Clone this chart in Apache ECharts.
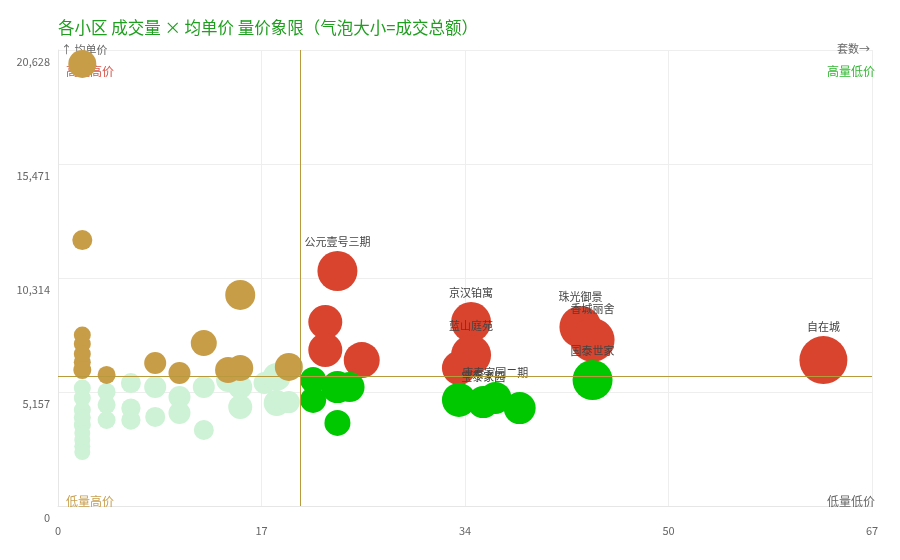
<!DOCTYPE html>
<html>
<head>
<meta charset="utf-8">
<script src="https://cdn.jsdelivr.net/npm/echarts@6/dist/echarts.min.js"></script>
<style>
html,body{margin:0;padding:0;background:#fff;}
#c{width:900px;height:560px;}
</style>
</head>
<body>
<div id="c"></div>
<script>
// ---- data ----
// rows: [low-count high-price 15] [low-count low-price 28] [high-count low-price 10] [high-count high-price 10]
var names = [
  '', '', '', '', '',   '', '', '', '', '',   '', '', '', '', '',
  '', '', '', '', '',   '', '', '', '', '',   '', '', '', '', '',   '', '', '', '', '',   '', '', '', '', '',   '', '', '',
  '', '', '', '', '',   '', '宝泰家园', '康泰家园二期', '', '国泰世家',
  '公元壹号三期', '', '', '', '京汉铂寓',   '蓝山庭苑', '', '珠光御景', '香城丽舍', '自在城'
];
var counts = [
  2, 2, 2, 2, 2,   2, 2, 4, 8, 10,   12, 15, 14, 15, 19,
  2, 2, 2, 2, 2,   2, 2, 2, 2, 4,   4, 4, 6, 6, 6,   8, 8, 10, 10, 12,   12, 14, 15, 15, 17,   18, 18, 19,
  21, 21, 23, 24, 23,   33, 35, 36, 38, 44,
  23, 22, 22, 25, 34,   34, 33, 43, 44, 63
];
var prices = [
  20000, 12030, 7740, 7330, 6880,   6500, 6150, 5930, 6470, 6020,   7370, 9550, 6150, 6240, 6290,
  5340, 4890, 4340, 4000, 3660,   3300, 2990, 2700, 2440, 5160,   4570, 3890, 5560, 4430, 3890,   5380, 4030, 4930, 4210, 5380,   3440, 5700, 5380, 4480, 5560,   5840, 4660, 4700,
  5700, 4800, 5380, 5380, 3760,   4800, 4700, 4890, 4430, 5700,
  10630, 8320, 7060, 6600, 8320,   6830, 6240, 8100, 7510, 6600
];
var amounts = [ // 成交总额（万元）
  900, 278, 136, 136, 136,   136, 178, 178, 400, 400,   711, 1111, 711, 711, 900,
  136, 136, 136, 136, 136,   100, 100, 100, 100, 178,   178, 178, 278, 240, 240,   400, 278, 400, 400, 400,   278, 544, 544, 544, 400,   900, 711, 400,
  711, 711, 1344, 1111, 711,   1600, 1344, 1344, 1344, 2500,
  2500, 1600, 1600, 1878, 2500,   2500, 1600, 2844, 3211, 4011
];
var avgCount = 19.9;
var avgPrice = 5880;
var xMax = 67, xInterval = 16.75;
var yMax = 20628, yInterval = 5157;
var titleText = '各小区 成交量 × 均单价 量价象限（气泡大小=成交总额）';
var quadrantNames = { tl: '高量高价', tr: '高量低价', bl: '低量高价', br: '低量低价' };

// ---- build series ----
var hh = [], hl = [], lh = [], ll = [];
for (var i = 0; i < counts.length; i++) {
  var p = { name: names[i] || '', value: [counts[i], prices[i], amounts[i]] };
  var hiC = counts[i] > avgCount, hiP = prices[i] > avgPrice;
  if (hiC && hiP) hh.push(p);
  else if (hiC) hl.push(p);
  else if (hiP) lh.push(p);
  else ll.push(p);
}
function sz(v) { return 10 + Math.sqrt(v[2]) * 0.6; }
var lbl = {
  show: true, position: 'top', distance: 4, fontSize: 11, color: '#444',
  fontFamily: 'Noto Sans CJK SC',
  formatter: function (p) { return p.name; }
};
function fmt(v) { return Math.round(v).toString().replace(/\B(?=(\d{3})+(?!\d))/g, ','); }

var chart = echarts.init(document.getElementById('c'));
chart.setOption({
  animation: false,
  textStyle: { fontFamily: 'Noto Sans CJK SC' },
  title: {
    text: titleText, left: 53, top: 14,
    textStyle: { fontSize: 16.5, fontWeight: 'normal', color: '#1f9e1f', fontFamily: 'Noto Sans CJK SC' }
  },
  grid: { left: 58, right: 28, top: 50, bottom: 54 },
  xAxis: {
    type: 'value', min: 0, max: xMax, interval: xInterval,
    axisLine: { show: true, lineStyle: { color: '#e6e6e6' } },
    axisTick: { show: false },
    splitLine: { show: true, lineStyle: { color: '#eeeeee' } },
    axisLabel: { color: '#666', fontSize: 11, margin: 19, formatter: function (v) { return Math.round(v); } }
  },
  yAxis: {
    type: 'value', min: 0, max: yMax, interval: yInterval,
    name: '↑ 均单价', nameLocation: 'end', nameGap: 0,
    nameTextStyle: { color: '#666', fontSize: 11, align: 'left', verticalAlign: 'middle', padding: [0, 0, 0, 3] },
    axisLine: { show: true, lineStyle: { color: '#e6e6e6' } },
    axisTick: { show: false },
    splitLine: { show: true, lineStyle: { color: '#eeeeee' } },
    axisLabel: { color: '#666', fontSize: 11, margin: 8, verticalAlign: 'top', padding: [6, 0, 0, 0], formatter: fmt }
  },
  graphic: [
    { type: 'text', right: 30, top: 43, z: 1, style: { text: '套数→', fill: '#666', font: '11px "Noto Sans CJK SC"' } },
    { type: 'text', left: 66, top: 65, z: 1, style: { text: quadrantNames.tl, fill: '#d9534a', font: '12px "Noto Sans CJK SC"' } },
    { type: 'text', right: 25, top: 65, z: 1, style: { text: quadrantNames.tr, fill: '#33b833', font: '12px "Noto Sans CJK SC"' } },
    { type: 'text', left: 66, top: 495, z: 1, style: { text: quadrantNames.bl, fill: '#c8a050', font: '12px "Noto Sans CJK SC"' } },
    { type: 'text', right: 25, top: 495, z: 1, style: { text: quadrantNames.br, fill: '#666', font: '12px "Noto Sans CJK SC"' } }
  ],
  series: [
    {
      type: 'scatter', data: [], silent: true,
      markLine: {
        silent: true, symbol: 'none', label: { show: false },
        lineStyle: { color: '#b89a3c', width: 1, type: 'solid' },
        data: [{ xAxis: avgCount }, { yAxis: avgPrice }]
      }
    },
    { name: '低量低价', type: 'scatter', data: ll, symbolSize: sz, itemStyle: { color: '#cdf2d5', opacity: 1 }, label: lbl },
    { name: '低量高价', type: 'scatter', data: lh, symbolSize: sz, itemStyle: { color: '#c89d48', opacity: 1 }, label: lbl },
    { name: '高量高价', type: 'scatter', data: hh, symbolSize: sz, itemStyle: { color: '#d9442f', opacity: 1 }, label: lbl },
    { name: '高量低价', type: 'scatter', data: hl, symbolSize: sz, itemStyle: { color: '#00c800', opacity: 1 }, label: lbl }
  ]
});
</script>
</body>
</html>
